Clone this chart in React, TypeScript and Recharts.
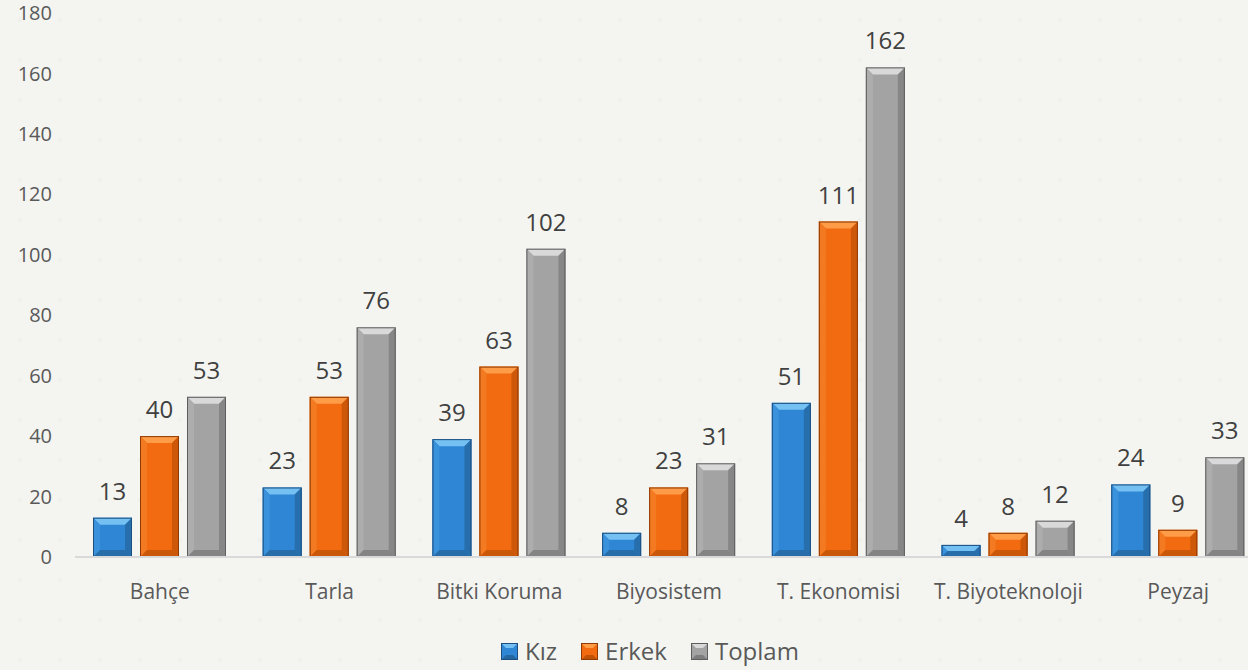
import React from 'react';
import { BarChart, Bar, XAxis, YAxis, Legend, LabelList } from 'recharts';

const categories = ['Bahçe', 'Tarla', 'Bitki Koruma', 'Biyosistem', 'T. Ekonomisi', 'T. Biyoteknoloji', 'Peyzaj'];
const kiz = [13, 23, 39, 8, 51, 4, 24];
const erkek = [40, 53, 63, 23, 111, 8, 9];
const toplam = [53, 76, 102, 31, 162, 12, 33];
const yTicks = [0, 20, 40, 60, 80, 100, 120, 140, 160, 180];

const data = categories.map((name, i) => ({ name, kiz: kiz[i], erkek: erkek[i], toplam: toplam[i] }));

const font = '"Open Sans", sans-serif';

const palette: Record<string, { base: string; light: string; side: string; dark: string; edge: string }> = {
  kiz: { base: '#2f86d4', light: '#74c0f2', side: '#3a92dc', dark: '#24679f', edge: '#1c4f80' },
  erkek: { base: '#f26b10', light: '#ff9c48', side: '#f47a22', dark: '#c05208', edge: '#8f3a04' },
  toplam: { base: '#a3a3a3', light: '#d9d9d9', side: '#adadad', dark: '#7c7c7c', edge: '#5e5e5e' },
};

const BevelBar = (props: any) => {
  const { x, y, width, height, dataKey } = props;
  if (!height || height <= 0) return null;
  const c = palette[dataKey];
  const b = Math.min(7, height / 2, width / 2);
  return (
    <g>
      <rect x={x} y={y} width={width} height={height} fill={c.base} />
      <polygon points={`${x},${y} ${x + width},${y} ${x + width - b},${y + b} ${x + b},${y + b}`} fill={c.light} />
      <polygon points={`${x},${y} ${x + b},${y + b} ${x + b},${y + height - b} ${x},${y + height}`} fill={c.side} />
      <polygon points={`${x + width},${y} ${x + width},${y + height} ${x + width - b},${y + height - b} ${x + width - b},${y + b}`} fill={c.dark} opacity={0.75} />
      <polygon points={`${x},${y + height} ${x + b},${y + height - b} ${x + width - b},${y + height - b} ${x + width},${y + height}`} fill={c.dark} opacity={0.8} />
      <rect x={x + 0.5} y={y + 0.5} width={width - 1} height={height - 1} fill="none" stroke={c.edge} strokeWidth={1} />
    </g>
  );
};

const legendItems = [
  { key: 'kiz', label: 'Kız' },
  { key: 'erkek', label: 'Erkek' },
  { key: 'toplam', label: 'Toplam' },
];

const renderLegend = () => (
  <div style={{ display: 'flex', justifyContent: 'center', gap: 24, paddingTop: 20, paddingLeft: 37, fontFamily: font, fontSize: 24, color: '#595959', lineHeight: '32px' }}>
    {legendItems.map((it) => {
      const c = palette[it.key];
      return (
        <div key={it.key} style={{ display: 'flex', alignItems: 'center', gap: 7 }}>
          <svg width={17} height={17}>
            <rect x={0.5} y={0.5} width={16} height={16} fill={c.base} stroke={c.edge} />
            <polygon points="1,1 16,1 12,5 5,5" fill={c.light} />
            <polygon points="1,16 5,12 12,12 16,16" fill={c.dark} />
          </svg>
          <span>{it.label}</span>
        </div>
      );
    })}
  </div>
);

export default function App() {
  return (
    <div
      style={{
        position: 'absolute',
        left: 0,
        top: 0,
        width: 1248,
        height: 670,
        overflow: 'hidden',
        backgroundColor: '#f4f5f1',
        backgroundImage: 'radial-gradient(circle, #f0f1ed 2px, transparent 3px)',
        backgroundSize: '40px 40px',
      }}
    >
      <BarChart
        width={1263}
        height={670}
        data={data}
        margin={{ top: 13, right: 0, left: 0, bottom: 0 }}
        barGap={8}
        barSize={39}
      >
        <XAxis
          dataKey="name"
          axisLine={{ stroke: '#d9d9d9', strokeWidth: 2 }}
          tickLine={false}
          height={58}
          tickMargin={21}
          tick={{ fill: '#595959', fontSize: 21, fontFamily: font }}
        />
        <YAxis
          width={75}
          domain={[0, 180]}
          ticks={yTicks}
          axisLine={false}
          tickLine={false}
          tickMargin={17}
          tick={{ fill: '#595959', fontSize: 20, fontFamily: font }}
        />
        <Legend verticalAlign="bottom" height={55} content={renderLegend} />
        {legendItems.map((it) => (
          <Bar key={it.key} dataKey={it.key} name={it.label} shape={<BevelBar dataKey={it.key} />} isAnimationActive={false}>
            <LabelList dataKey={it.key} position="top" offset={18} fill="#404040" fontSize={24} fontFamily={font} />
          </Bar>
        ))}
      </BarChart>
    </div>
  );
}
